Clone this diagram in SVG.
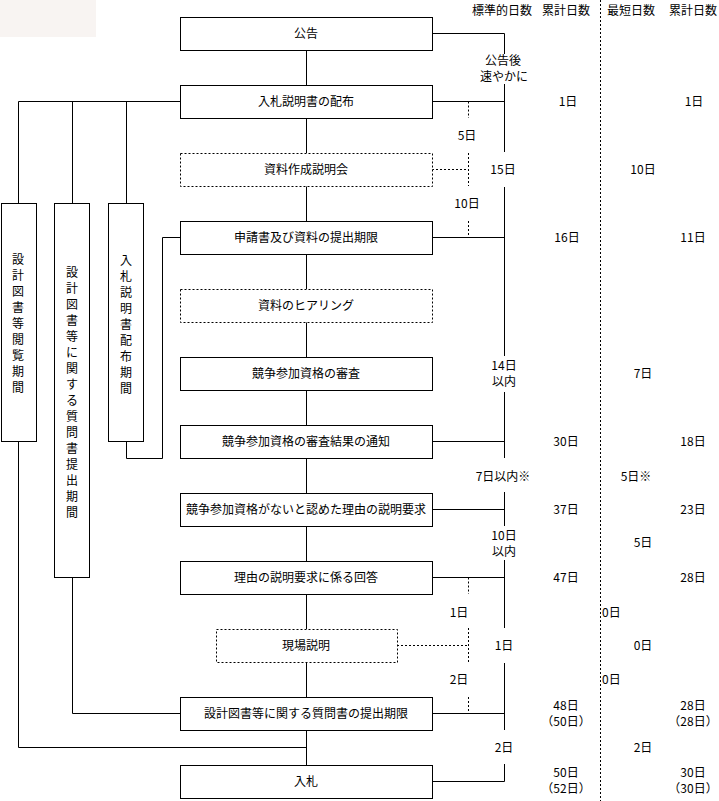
<svg xmlns="http://www.w3.org/2000/svg" width="719" height="801" viewBox="0 0 719 801">
<style>
text{font-family:"Noto Sans CJK JP","Noto Sans CJK SC",sans-serif;font-size:12px;fill:#000}
.c{text-anchor:middle}
.box{fill:#fff;stroke:#000;stroke-width:1}
.dbox{fill:#fff;stroke:#000;stroke-width:1;stroke-dasharray:2,2}
.ln{fill:none;stroke:#000;stroke-width:1}
.dl{fill:none;stroke:#000;stroke-width:1;stroke-dasharray:2,2}
</style>
<rect x="0" y="0" width="96" height="37" fill="#f8f4f2"/>
<g id="connectors">
<!-- main vertical -->
<path class="ln" d="M306.5 50V85 M306.5 118V153 M306.5 186V221 M306.5 254V289 M306.5 322V357 M306.5 390V425 M306.5 458V493 M306.5 526V561 M306.5 594V629 M306.5 662V697 M306.5 730V765"/>
<!-- timeline -->
<path class="ln" d="M432 33.5H504.5V54 M504.5 84V152 M504.5 187V356 M504.5 392V458 M504.5 492V526 M504.5 560V628 M504.5 663V730 M504.5 764V781.5H432"/>
<path class="ln" d="M432 101.5H504.5 M432 237.5H504.5 M432 441.5H504.5 M432 509.5H504.5 M432 577.5H504.5 M432 713.5H504.5"/>
<!-- dashed -->
<path class="dl" d="M468.5 101.5V118 M468.5 153V186 M468.5 221V237.5 M432 169.5H468.5 M468.5 577.5V594 M468.5 628V662 M397 645.5H468.5 M468.5 697V713.5"/>
<path class="dl" d="M600.5 0V801"/>
<!-- left -->
<path class="ln" d="M18.5 101.5H180.5 M18.5 101.5V203.5 M72.5 101.5V203.5 M126.5 101.5V203.5"/>
<path class="ln" d="M126.5 441.5V458.5H162.5V237.5H180.5"/>
<path class="ln" d="M72.5 577.5V713.5H180.5"/>
<path class="ln" d="M18.5 441.5V747.5H306.5"/>
</g>
<g id="n1"><rect class="box" x="180.5" y="17.5" width="252" height="33"/><text class="c" x="306" y="38">公告</text></g>
<g id="n2"><rect class="box" x="180.5" y="85.5" width="252" height="33"/><text class="c" x="306" y="106">入札説明書の配布</text></g>
<g id="n3"><rect class="dbox" x="180.5" y="153.5" width="252" height="33"/><text class="c" x="306" y="174">資料作成説明会</text></g>
<g id="n4"><rect class="box" x="180.5" y="221.5" width="252" height="33"/><text class="c" x="306" y="242">申請書及び資料の提出期限</text></g>
<g id="n5"><rect class="dbox" x="180.5" y="289.5" width="252" height="33"/><text class="c" x="306" y="310">資料のヒアリング</text></g>
<g id="n6"><rect class="box" x="180.5" y="357.5" width="252" height="33"/><text class="c" x="306" y="378">競争参加資格の審査</text></g>
<g id="n7"><rect class="box" x="180.5" y="425.5" width="252" height="33"/><text class="c" x="306" y="446">競争参加資格の審査結果の通知</text></g>
<g id="n8"><rect class="box" x="180.5" y="493.5" width="252" height="33"/><text class="c" x="306" y="514">競争参加資格がないと認めた理由の説明要求</text></g>
<g id="n9"><rect class="box" x="180.5" y="561.5" width="252" height="33"/><text class="c" x="306" y="582">理由の説明要求に係る回答</text></g>
<g id="n10"><rect class="dbox" x="216.5" y="629.5" width="181" height="33"/><text class="c" x="306" y="650">現場説明</text></g>
<g id="n11"><rect class="box" x="180.5" y="697.5" width="252" height="33"/><text class="c" x="306" y="718">設計図書等に関する質問書の提出期限</text></g>
<g id="n12"><rect class="box" x="180.5" y="765.5" width="252" height="33"/><text class="c" x="306" y="786">入札</text></g>
<g id="v1"><rect class="box" x="1.5" y="203.5" width="35" height="238"/>
<text class="c" x="18" y="248"><tspan x="18" dy="16">設</tspan><tspan x="18" dy="16">計</tspan><tspan x="18" dy="16">図</tspan><tspan x="18" dy="16">書</tspan><tspan x="18" dy="16">等</tspan><tspan x="18" dy="16">閲</tspan><tspan x="18" dy="16">覧</tspan><tspan x="18" dy="16">期</tspan><tspan x="18" dy="16">間</tspan></text></g>
<g id="v2"><rect class="box" x="54.5" y="203.5" width="35" height="374"/>
<text class="c" x="72" y="261"><tspan x="72" dy="16">設</tspan><tspan x="72" dy="16">計</tspan><tspan x="72" dy="16">図</tspan><tspan x="72" dy="16">書</tspan><tspan x="72" dy="16">等</tspan><tspan x="72" dy="16">に</tspan><tspan x="72" dy="16">関</tspan><tspan x="72" dy="16">す</tspan><tspan x="72" dy="16">る</tspan><tspan x="72" dy="16">質</tspan><tspan x="72" dy="16">問</tspan><tspan x="72" dy="16">書</tspan><tspan x="72" dy="16">提</tspan><tspan x="72" dy="16">出</tspan><tspan x="72" dy="16">期</tspan><tspan x="72" dy="16">間</tspan></text></g>
<g id="v3"><rect class="box" x="108.5" y="203.5" width="35" height="238"/>
<text class="c" x="126" y="249"><tspan x="126" dy="16">入</tspan><tspan x="126" dy="16">札</tspan><tspan x="126" dy="16">説</tspan><tspan x="126" dy="16">明</tspan><tspan x="126" dy="16">書</tspan><tspan x="126" dy="16">配</tspan><tspan x="126" dy="16">布</tspan><tspan x="126" dy="16">期</tspan><tspan x="126" dy="16">間</tspan></text></g>
<g id="labels">
<text class="c" x="502" y="15">標準的日数</text>
<text class="c" x="566" y="15">累計日数</text>
<text class="c" x="631" y="15">最短日数</text>
<text class="c" x="693" y="15">累計日数</text>
<text class="c" x="503" y="65">公告後</text>
<text class="c" x="504" y="81">速やかに</text>
<text class="c" x="568" y="106">1日</text>
<text class="c" x="694" y="106">1日</text>
<text class="c" x="467" y="140">5日</text>
<text class="c" x="503" y="174">15日</text>
<text class="c" x="643" y="174">10日</text>
<text class="c" x="467" y="208">10日</text>
<text class="c" x="567" y="242">16日</text>
<text class="c" x="693" y="242">11日</text>
<text class="c" x="504" y="370">14日</text>
<text class="c" x="504" y="386">以内</text>
<text class="c" x="643" y="378">7日</text>
<text class="c" x="566" y="446">30日</text>
<text class="c" x="693" y="446">18日</text>
<text class="c" x="503" y="481">7日以内※</text>
<text class="c" x="636" y="481">5日※</text>
<text class="c" x="566" y="514">37日</text>
<text class="c" x="693" y="514">23日</text>
<text class="c" x="504" y="540">10日</text>
<text class="c" x="504" y="556">以内</text>
<text class="c" x="643" y="547">5日</text>
<text class="c" x="566" y="582">47日</text>
<text class="c" x="693" y="582">28日</text>
<text class="c" x="459" y="617">1日</text>
<text x="602" y="617">0日</text>
<text class="c" x="504" y="650">1日</text>
<text class="c" x="643" y="650">0日</text>
<text class="c" x="459" y="684">2日</text>
<text x="602" y="684">0日</text>
<text class="c" x="566" y="710">48日</text>
<text class="c" x="566" y="726">（50日）</text>
<text class="c" x="693" y="710">28日</text>
<text class="c" x="693" y="726">（28日）</text>
<text class="c" x="504" y="752">2日</text>
<text class="c" x="643" y="752">2日</text>
<text class="c" x="566" y="777">50日</text>
<text class="c" x="566" y="793">（52日）</text>
<text class="c" x="693" y="777">30日</text>
<text class="c" x="693" y="793">（30日）</text>
</g>
</svg>
